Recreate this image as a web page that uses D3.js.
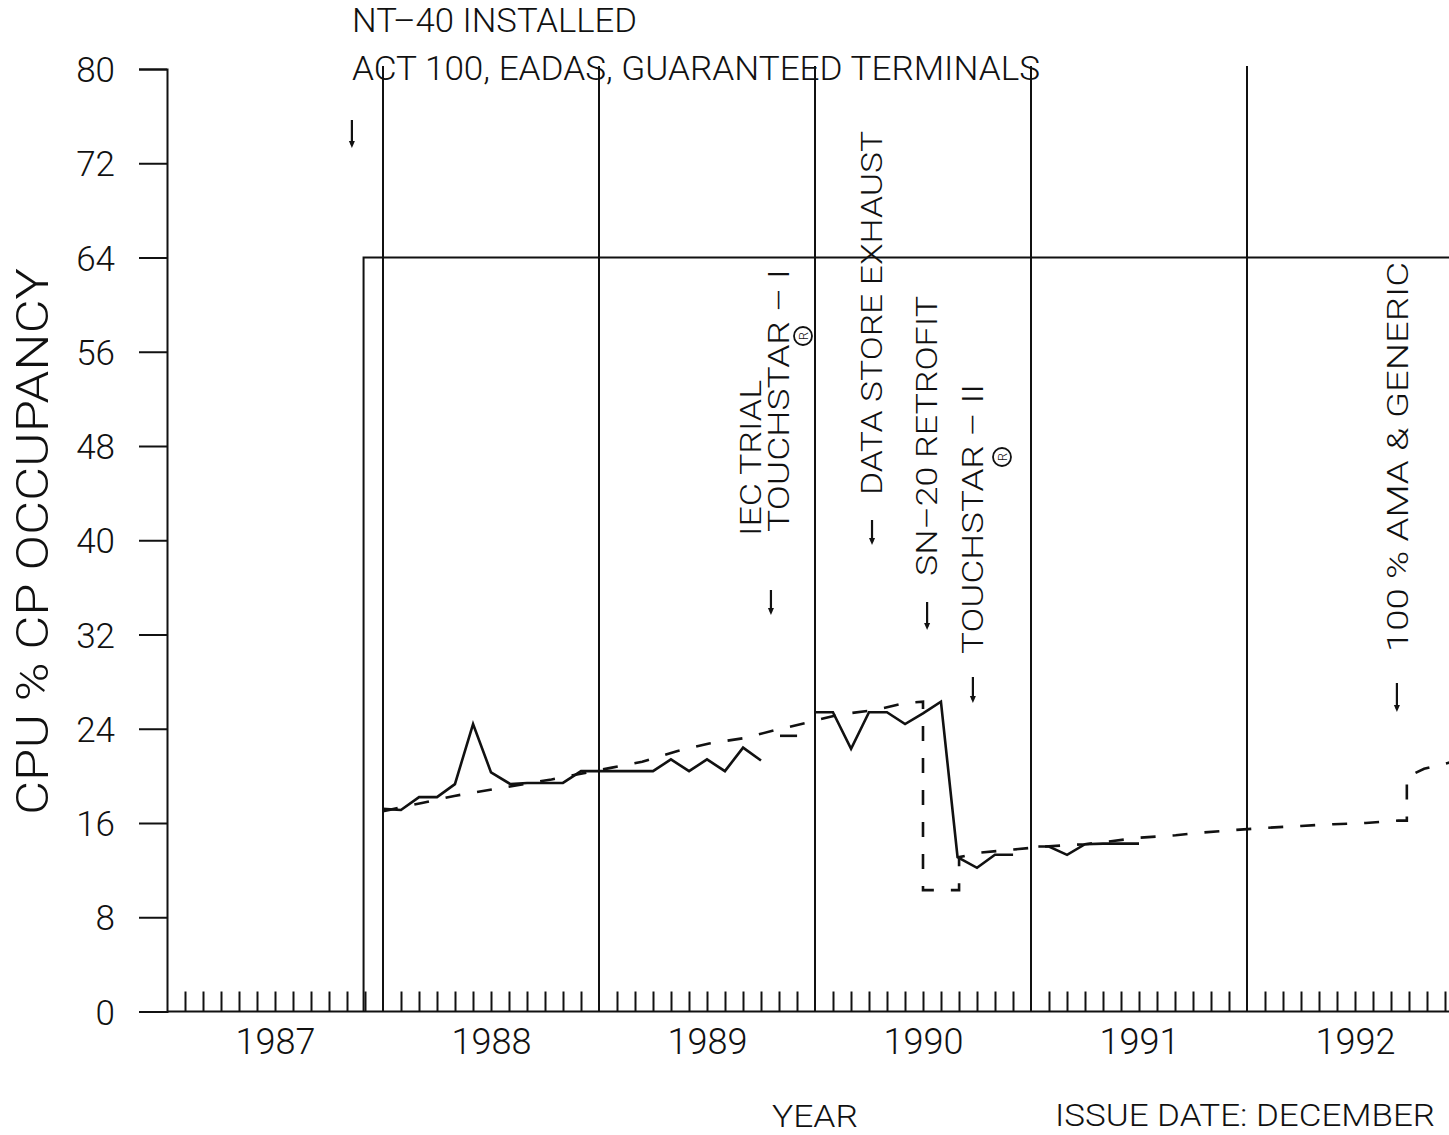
<!DOCTYPE html>
<html>
<head>
<meta charset="utf-8">
<script src="https://cdn.jsdelivr.net/npm/d3@7/dist/d3.min.js"></script>
<style>
  html, body { margin: 0; padding: 0; background: #fff; }
  svg { display: block; }
  text { font-family: "Roboto", "Liberation Sans", "DejaVu Sans", sans-serif; font-weight: 300; fill: #111; }
</style>
</head>
<body>
<svg id="chart" width="1449" height="1135"></svg>
<script>
// ---------------- DATA ----------------
const yearLabels = ["1987", "1988", "1989", "1990", "1991", "1992"];
const yTicks = [0, 8, 16, 24, 32, 40, 48, 56, 64, 72, 80];

// Actual CPU % CP occupancy (solid), [decimal year, value]
const actualSeg1 = [
  [1988.000, 17.2], [1988.083, 17.1], [1988.167, 18.2], [1988.250, 18.2],
  [1988.333, 19.3], [1988.417, 24.4], [1988.500, 20.3], [1988.590, 19.3],
  [1988.667, 19.4], [1988.833, 19.4], [1988.917, 20.4], [1989.000, 20.4],
  [1989.250, 20.4], [1989.333, 21.4], [1989.417, 20.4], [1989.500, 21.4],
  [1989.583, 20.4], [1989.667, 22.4], [1989.750, 21.3]
];
const actualSeg2 = [[1989.838, 23.4], [1989.917, 23.4]];
const actualSeg3 = [
  [1990.000, 25.4], [1990.083, 25.4], [1990.167, 22.3], [1990.250, 25.4],
  [1990.333, 25.4], [1990.417, 24.4], [1990.500, 25.3], [1990.583, 26.3],
  [1990.660, 13.1], [1990.750, 12.2], [1990.833, 13.3], [1990.917, 13.3]
];
const actualSeg4 = [
  [1991.034, 14.0], [1991.083, 14.0], [1991.167, 13.3], [1991.250, 14.2],
  [1991.333, 14.25], [1991.500, 14.25]
];

// Forecast (dashed), [decimal year, value]
const forecast = [
  [1988.000, 17.0], [1988.180, 17.7], [1988.330, 18.3], [1988.490, 18.8],
  [1988.780, 19.7], [1989.060, 20.7], [1989.200, 21.2], [1989.360, 22.1],
  [1989.510, 22.75], [1989.670, 23.2], [1989.820, 23.9], [1989.960, 24.5],
  [1990.110, 25.2], [1990.280, 25.6], [1990.420, 26.2], [1990.500, 26.3],
  [1990.500, 10.3], [1990.667, 10.3], [1990.667, 13.1],
  [1990.770, 13.5], [1990.920, 13.75], [1991.060, 14.0], [1991.250, 14.2],
  [1991.370, 14.45], [1991.500, 14.75], [1991.670, 14.96], [1991.800, 15.2],
  [1991.940, 15.4], [1992.100, 15.6], [1992.250, 15.75], [1992.400, 15.9],
  [1992.550, 16.0], [1992.700, 16.2], [1992.740, 16.2], [1992.740, 19.9],
  [1992.820, 20.6], [1992.930, 21.1], [1993.000, 21.4]
];

// Capacity limit after NT-40 installation
const ntInstalled = 1987.91;
const capacity = 64;

// Milestone annotations (decimal year of arrow)
const milestones = [
  { date: 1987.856, top: 120, bottom: 148 },
  { date: 1989.796, top: 590, bottom: 615 },
  { date: 1990.264, top: 520, bottom: 545 },
  { date: 1990.519, top: 602, bottom: 630 },
  { date: 1990.731, top: 677, bottom: 703 },
  { date: 1992.694, top: 683, bottom: 712 }
];
const annotationTexts = [
  { text: "IEC  TRIAL", bx: 761, y0: 536, len: 156 },
  { text: "TOUCHSTAR  –  I", bx: 789, y0: 532, len: 263 },
  { text: "DATA  STORE  EXHAUST", bx: 882, y0: 495, len: 364 },
  { text: "SN–20  RETROFIT", bx: 937, y0: 576, len: 280 },
  { text: "TOUCHSTAR  –  II", bx: 983, y0: 654, len: 270 },
  { text: "100  %  AMA  &  GENERIC", bx: 1408, y0: 652, len: 390 }
];
const registered = [{ cx: 803, cy: 336 }, { cx: 1002, cy: 457 }];

// ---------------- CHART ----------------
const svg = d3.select("#chart");
const x = d3.scaleLinear().domain([1987, 1993]).range([167, 1463]);
const y = d3.scaleLinear().domain([0, 80]).range([1011.5, 69]);

const ink = "#111";

// Year grid lines
const years = d3.range(1988, 1993);
svg.append("g").selectAll("line").data(years).join("line")
  .attr("x1", d => x(d)).attr("x2", d => x(d))
  .attr("y1", 66).attr("y2", y(0))
  .attr("stroke", ink).attr("stroke-width", 2);

// Y axis
const yAxis = d3.axisLeft(y).tickValues(yTicks).tickSize(28).tickPadding(24).tickFormat(d3.format("d"));
const gy = svg.append("g").attr("transform", `translate(${x(1987)},0)`).call(yAxis);
gy.select(".domain").attr("stroke", ink).attr("stroke-width", 2);
gy.selectAll(".tick line").attr("stroke", ink).attr("stroke-width", 2);
gy.selectAll(".tick text").attr("font-size", 35).attr("dy", "0.36em")
  .style("font-family", "Roboto, 'Liberation Sans', sans-serif").attr("fill", ink);

// X axis: monthly minor ticks
const months = [];
for (let yr = 1987; yr < 1993; yr++) for (let m = 1; m < 12; m++) months.push(yr + m / 12);
const xAxis = d3.axisBottom(x).tickValues(months).tickSize(-20).tickFormat("");
const gx = svg.append("g").attr("transform", `translate(0,${y(0)})`).call(xAxis);
gx.select(".domain").attr("stroke", ink).attr("stroke-width", 2).attr("d", `M${x(1987)},0H1463`);
gx.selectAll(".tick line").attr("stroke", ink).attr("stroke-width", 2);

// Year labels centred in each year
const xLab = d3.axisBottom(x).tickValues(yearLabels.map(d => +d + 0.5)).tickSize(0).tickPadding(17)
  .tickFormat(d => String(Math.floor(d)));
const gl = svg.append("g").attr("transform", `translate(0,${y(0)})`).call(xLab);
gl.select(".domain").remove();
gl.selectAll(".tick text").attr("font-size", 36).attr("fill", ink)
  .style("font-family", "Roboto, 'Liberation Sans', sans-serif");

// Capacity (64%) line after NT-40
svg.append("path")
  .attr("d", `M${x(ntInstalled)},${y(0)}V${y(capacity)}H1463`)
  .attr("fill", "none").attr("stroke", ink).attr("stroke-width", 2);

// Lines
const line = d3.line().x(d => x(d[0])).y(d => y(d[1]));
[actualSeg1, actualSeg2, actualSeg3, actualSeg4].forEach(seg => {
  svg.append("path").datum(seg).attr("d", line)
    .attr("fill", "none").attr("stroke", ink).attr("stroke-width", 2.6)
    .attr("stroke-linejoin", "miter");
});
svg.append("path").datum(forecast).attr("d", line)
  .attr("fill", "none").attr("stroke", ink).attr("stroke-width", 2.6)
  .attr("stroke-dasharray", "15,17");

// Arrows
const arr = svg.append("g");
milestones.forEach(m => {
  const cx = x(m.date);
  arr.append("line").attr("x1", cx).attr("x2", cx).attr("y1", m.top).attr("y2", m.bottom - 3)
    .attr("stroke", ink).attr("stroke-width", 2.2);
  arr.append("path").attr("d", `M${cx - 3},${m.bottom - 7}L${cx + 3},${m.bottom - 7}L${cx},${m.bottom}Z`)
    .attr("fill", ink);
});

// Rotated annotation texts
annotationTexts.forEach(a => {
  svg.append("text")
    .attr("transform", `translate(${a.bx},${a.y0}) rotate(-90)`)
    .attr("font-size", 30)
    .attr("textLength", a.len).attr("lengthAdjust", "spacingAndGlyphs")
    .text(a.text);
});
// Registered marks: circle with R
registered.forEach(r => {
  const g = svg.append("g").attr("transform", `translate(${r.cx},${r.cy}) rotate(-90)`);
  g.append("circle").attr("r", 9).attr("fill", "none").attr("stroke", ink).attr("stroke-width", 1.8);
  g.append("text").attr("text-anchor", "middle").attr("dy", "0.36em")
    .attr("font-size", 13).attr("font-weight", 500).text("R");
});

// Top texts
svg.append("text").attr("x", 352).attr("y", 32).attr("font-size", 33)
  .attr("textLength", 285).attr("lengthAdjust", "spacingAndGlyphs").text("NT–40  INSTALLED");
svg.append("text").attr("x", 352).attr("y", 80).attr("font-size", 34)
  .attr("textLength", 688).attr("lengthAdjust", "spacingAndGlyphs")
  .text("ACT  100,  EADAS,  GUARANTEED  TERMINALS");

// Axis titles
svg.append("text").attr("transform", "translate(48,815) rotate(-90)")
  .attr("font-size", 44).attr("textLength", 547).attr("lengthAdjust", "spacingAndGlyphs")
  .text("CPU  %  CP  OCCUPANCY");
svg.append("text").attr("x", 772).attr("y", 1127).attr("font-size", 32)
  .attr("textLength", 86).attr("lengthAdjust", "spacingAndGlyphs").text("YEAR");
svg.append("text").attr("x", 1055).attr("y", 1126).attr("font-size", 32)
  .attr("textLength", 380).attr("lengthAdjust", "spacingAndGlyphs").text("ISSUE  DATE:  DECEMBER");
</script>
</body>
</html>
